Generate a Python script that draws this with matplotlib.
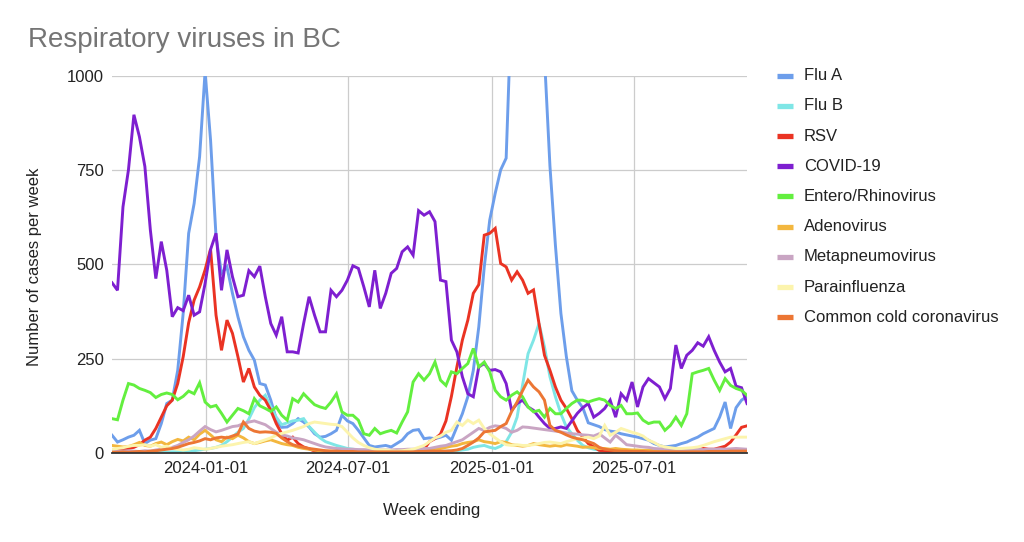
import pandas as pd
import matplotlib
matplotlib.use('Agg')
import matplotlib.pyplot as plt
import matplotlib.dates as mdates
from matplotlib.lines import Line2D

plt.rcParams['font.family'] = ['Liberation Sans', 'DejaVu Sans']

# weekly counts, first week ending 2023-09-03
start_week = '2023-09-03'

flu_a = [47, 29, 35, 42, 47, 60, 25, 34, 38, 78,
         131, 140, 219, 370, 582, 661, 785, 1010, 829, 573,
         476, 493, 423, 361, 308, 272, 246, 184, 180, 140,
         90, 68, 69, 78, 91, 82, 69, 51, 42, 44,
         51, 60, 100, 85, 78, 60, 40, 20, 16, 18,
         20, 16, 25, 34, 51, 60, 62, 38, 40, 38,
         42, 47, 34, 69, 104, 149, 219, 334, 493, 617,
         688, 750, 781, 1200, 1550, 1750, 1650, 1450, 1250, 1050,
         760, 550, 370, 255, 165, 140, 120, 80, 75, 70,
         62, 58, 56, 51, 48, 45, 42, 38, 34, 25,
         20, 16, 18, 20, 25, 29, 36, 42, 51, 58,
         65, 95, 135, 65, 120, 140, 150]

flu_b = [0, 0, 0, 0, 0, 0, 1, 1, 1, 2,
         2, 3, 3, 4, 5, 6, 8, 10, 12, 15,
         20, 30, 42, 55, 65, 90, 120, 140, 153, 122,
         95, 75, 80, 85, 87, 91, 70, 55, 40, 30,
         25, 20, 16, 12, 10, 8, 6, 5, 4, 3,
         3, 2, 2, 2, 3, 2, 2, 3, 3, 4,
         4, 5, 5, 6, 8, 10, 15, 18, 20, 15,
         12, 18, 30, 55, 95, 180, 263, 299, 343, 281,
         202, 149, 104, 69, 51, 34, 20, 14, 10, 8,
         6, 5, 5, 4, 4, 3, 3, 3, 2, 2,
         2, 2, 2, 2, 2, 2, 2, 2, 3, 3,
         3, 3, 3, 4, 4, 5, 5]

rsv = [5, 8, 10, 12, 15, 22, 34, 42, 65, 95,
       125, 140, 184, 255, 345, 405, 440, 485, 540, 365,
       272, 352, 317, 255, 188, 224, 175, 153, 140, 113,
       78, 51, 34, 42, 25, 16, 11, 5, 5, 4,
       3, 3, 2, 2, 2, 1, 1, 1, 1, 1,
       2, 2, 3, 3, 4, 5, 8, 10, 30, 38,
       50, 85, 150, 228, 299, 352, 423, 446, 577, 582,
       595, 502, 493, 458, 480, 458, 423, 432, 343, 259,
       219, 175, 140, 118, 91, 60, 42, 25, 16, 7,
       5, 4, 3, 3, 4, 3, 2, 3, 4, 3,
       5, 4, 6, 5, 8, 6, 10, 8, 12, 10,
       10, 14, 18, 29, 48, 68, 72]

covid = [451, 431, 652, 750, 896, 838, 759, 591, 462, 560,
         484, 361, 385, 377, 418, 365, 374, 449, 539, 582,
         431, 538, 467, 414, 418, 483, 467, 495, 414, 343,
         312, 361, 268, 268, 265, 343, 414, 365, 321, 321,
         431, 414, 431, 458, 496, 489, 440, 387, 484, 383,
         423, 476, 489, 533, 546, 524, 642, 630, 639, 613,
         458, 454, 299, 268, 202, 157, 149, 228, 237, 219,
         221, 215, 184, 113, 131, 140, 122, 113, 95, 78,
         65, 65, 69, 65, 85, 105, 120, 131, 95, 105,
         118, 140, 95, 157, 140, 188, 122, 175, 197, 186,
         175, 144, 171, 286, 224, 259, 272, 292, 283, 308,
         272, 241, 215, 224, 177, 173, 131]

entero = [91, 88, 140, 184, 180, 171, 166, 160, 147, 155,
          159, 155, 141, 150, 164, 157, 186, 135, 122, 126,
          105, 82, 100, 118, 112, 104, 144, 125, 118, 110,
          122, 100, 87, 144, 135, 157, 142, 128, 122, 118,
          135, 157, 109, 100, 100, 87, 51, 47, 65, 51,
          56, 60, 53, 82, 109, 188, 210, 193, 210, 241,
          193, 179, 215, 210, 224, 237, 277, 228, 241, 215,
          166, 149, 140, 153, 162, 149, 122, 109, 113, 95,
          118, 104, 104, 118, 131, 140, 140, 135, 140, 144,
          140, 126, 118, 126, 104, 104, 106, 87, 78, 82,
          82, 60, 73, 95, 73, 104, 210, 215, 219, 224,
          193, 166, 197, 179, 171, 166, 153]

adeno = [20, 18, 16, 17, 22, 28, 20, 18, 25, 29,
         22, 30, 36, 32, 42, 35, 50, 60, 48, 35,
         30, 42, 38, 47, 40, 30, 25, 28, 32, 35,
         30, 25, 22, 20, 15, 12, 10, 8, 6, 5,
         5, 5, 4, 4, 3, 3, 3, 3, 4, 4,
         5, 5, 5, 6, 6, 8, 8, 10, 10, 12,
         12, 15, 18, 20, 25, 28, 30, 35, 30, 28,
         25, 30, 28, 22, 20, 18, 20, 25, 22, 20,
         18, 20, 18, 22, 20, 18, 15, 16, 14, 12,
         12, 10, 12, 10, 9, 8, 8, 7, 8, 6,
         6, 5, 5, 6, 5, 6, 5, 6, 5, 6,
         6, 7, 6, 8, 7, 8, 8]

metapneumo = [5, 4, 5, 6, 5, 4, 6, 5, 8, 10,
              12, 15, 20, 28, 35, 45, 58, 70, 62, 56,
              60, 65, 70, 72, 78, 82, 85, 80, 75, 65,
              55, 48, 45, 40, 38, 35, 30, 25, 20, 16,
              14, 12, 11, 10, 10, 9, 9, 8, 8, 8,
              8, 8, 9, 9, 10, 10, 10, 12, 12, 15,
              18, 20, 25, 30, 35, 45, 55, 65, 60, 68,
              72, 70, 65, 55, 60, 69, 68, 66, 64, 62,
              60, 58, 56, 53, 51, 50, 48, 47, 45, 51,
              40, 29, 47, 35, 22, 20, 18, 16, 15, 12,
              11, 11, 10, 10, 9, 9, 10, 10, 9, 10,
              10, 11, 10, 11, 12, 11, 10]

parainfluenza = [10, 12, 14, 18, 20, 20, 22, 18, 22, 15,
                 18, 12, 10, 8, 10, 14, 12, 10, 12, 15,
                 18, 20, 22, 25, 28, 30, 25, 30, 35, 40,
                 47, 52, 56, 60, 65, 70, 78, 82, 80, 78,
                 76, 75, 70, 55, 40, 28, 20, 14, 10, 8,
                 8, 6, 5, 6, 8, 10, 15, 20, 30, 40,
                 45, 55, 60, 82, 73, 87, 78, 87, 65, 51,
                 40, 30, 22, 20, 22, 20, 20, 22, 25, 28,
                 29, 27, 25, 30, 34, 38, 40, 42, 38, 45,
                 73, 47, 55, 65, 60, 55, 51, 45, 34, 28,
                 20, 16, 14, 12, 12, 13, 14, 16, 20, 25,
                 30, 34, 38, 42, 42, 42, 42]

cold_corona = [2, 2, 3, 2, 3, 4, 3, 5, 6, 8,
               10, 12, 15, 20, 25, 28, 32, 38, 35, 40,
               42, 40, 45, 50, 82, 65, 58, 55, 56, 55,
               52, 40, 30, 22, 18, 15, 12, 10, 8, 6,
               5, 5, 4, 4, 4, 3, 3, 3, 3, 3,
               3, 3, 3, 3, 3, 3, 4, 4, 5, 5,
               5, 5, 6, 8, 12, 20, 29, 40, 56, 58,
               60, 70, 78, 110, 135, 165, 193, 175, 162, 140,
               73, 60, 55, 48, 42, 38, 35, 30, 25, 15,
               10, 8, 6, 5, 5, 4, 4, 4, 3, 3,
               3, 3, 3, 3, 3, 3, 3, 3, 3, 4,
               4, 4, 4, 5, 5, 5, 5]

series_names = ['Flu A', 'Flu B', 'RSV', 'COVID-19', 'Entero/Rhinovirus',
                'Adenovirus', 'Metapneumovirus', 'Parainfluenza',
                'Common cold coronavirus']
series_values = [flu_a, flu_b, rsv, covid, entero, adeno, metapneumo,
                 parainfluenza, cold_corona]
series_colors = ['#6d9eeb', '#7fe6e6', '#ea3323', '#7e1fd0', '#63ef3f',
                 '#f3b73f', '#c9a5c3', '#fcf4ad', '#ec7634']

y_ticks = [0, 250, 500, 750, 1000]
x_ticks = ['2024-01-01', '2024-07-01', '2025-01-01', '2025-07-01']

weeks = pd.date_range(start_week, periods=len(covid), freq='7D')

fig = plt.figure(figsize=(10.24, 5.42), dpi=100)
ax = fig.add_axes([0.1094, 0.1642, 0.6201, 0.6965])

for name, vals, col in zip(series_names, series_values, series_colors):
    ax.plot(weeks, vals, color=col, lw=2.1, label=name, solid_joinstyle='miter')

ax.set_xlim(weeks[0], weeks[-1])
ax.set_ylim(0, 1000)
ax.set_yticks(y_ticks)
ax.set_xticks(pd.to_datetime(x_ticks))
ax.xaxis.set_major_formatter(mdates.DateFormatter('%Y-%m-%d'))
ax.grid(True, color='#cccccc', lw=0.9)
ax.set_axisbelow(True)
for s in ['top', 'right', 'left']:
    ax.spines[s].set_visible(False)
ax.spines['bottom'].set_color('#333333')
ax.spines['bottom'].set_linewidth(1.3)
ax.spines['bottom'].set_zorder(5)
ax.tick_params(length=0, labelsize=12, colors='#222222')
ax.tick_params(axis='y', pad=6)
ax.tick_params(axis='x', pad=6)

fig.text(28 / 1024, 1 - 47 / 542, 'Respiratory viruses in BC', fontsize=20,
         color='#757575', va='baseline', ha='left')
fig.text(35 / 1024, 1 - 267 / 542, 'Number of cases per week', fontsize=12,
         rotation=90, ha='center', va='center', color='#222222')
fig.text(432 / 1024, 1 - 511 / 542, 'Week ending', fontsize=12,
         ha='center', va='center', color='#222222')

# legend on the right, drawn in figure pixels
for k, (name, col) in enumerate(zip(series_names, series_colors)):
    yy = 1 - (75.7 + 30.2 * k) / 542
    fig.add_artist(Line2D([777 / 1024, 793 / 1024], [yy, yy], color=col,
                          lw=3.8, solid_capstyle='butt',
                          transform=fig.transFigure))
    fig.text(804 / 1024, yy, name, fontsize=12, va='center', ha='left',
             color='#222222')

fig.savefig('out.png', dpi=100)
